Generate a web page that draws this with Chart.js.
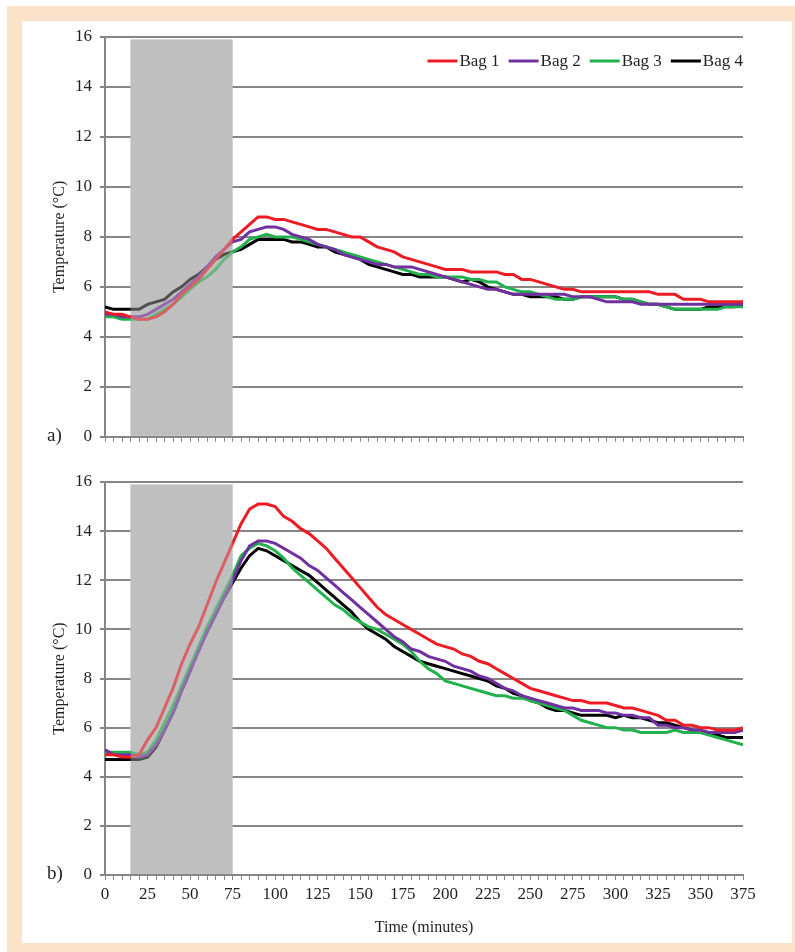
<!DOCTYPE html>
<html>
<head>
<meta charset="utf-8">
<title>Bag temperature</title>
<script src="https://cdn.jsdelivr.net/npm/chart.js@4/dist/chart.umd.min.js"></script>
<style>
  html, body { margin: 0; padding: 0; background: #fff; }
  #page { position: relative; width: 795px; height: 952px; overflow: hidden; }
  #frame { position: absolute; left: 7px; top: 6px; width: 800px; height: 960px; background: #fde2cb; }
  #paper { position: absolute; left: 22px; top: 21px; width: 770px; height: 922px; background: #fff; }
  canvas { position: absolute; left: 0; }
  #chartA { top: 0; }
  #chartB { top: 455px; }
</style>
</head>
<body>
<div id="page">
  <div id="frame"></div>
  <div id="paper"></div>
  <canvas id="chartA" width="795" height="455"></canvas>
  <canvas id="chartB" width="795" height="497"></canvas>
</div>
<script>
// time axis (minutes)
const minutes = [0, 5, 10, 15, 20, 25, 30, 35, 40, 45, 50, 55, 60, 65, 70, 75, 80, 85, 90, 95,
  100, 105, 110, 115, 120, 125, 130, 135, 140, 145, 150, 155, 160, 165, 170, 175, 180, 185, 190, 195,
  200, 205, 210, 215, 220, 225, 230, 235, 240, 245, 250, 255, 260, 265, 270, 275, 280, 285, 290, 295,
  300, 305, 310, 315, 320, 325, 330, 335, 340, 345, 350, 355, 360, 365, 370, 375];

const bagNames = ["Bag 1", "Bag 2", "Bag 3", "Bag 4"];
const bagColors = ["#ed1c24", "#7030a0", "#22b14c", "#000000"];
const panelLabels = ["a)", "b)"];

// shaded period (minutes) and its top (°C)
const shadeRange = [15, 75];
const shadeTop = 15.9;

// panel a) temperatures (°C)
const bagA1 = [5.0, 4.9, 4.9, 4.8, 4.7, 4.7, 4.8, 5.0, 5.3, 5.7, 6.0, 6.3, 6.7, 7.1, 7.5, 7.9, 8.2, 8.5, 8.8, 8.8,
  8.7, 8.7, 8.6, 8.5, 8.4, 8.3, 8.3, 8.2, 8.1, 8.0, 8.0, 7.8, 7.6, 7.5, 7.4, 7.2, 7.1, 7.0, 6.9, 6.8,
  6.7, 6.7, 6.7, 6.6, 6.6, 6.6, 6.6, 6.5, 6.5, 6.3, 6.3, 6.2, 6.1, 6.0, 5.9, 5.9, 5.8, 5.8, 5.8, 5.8,
  5.8, 5.8, 5.8, 5.8, 5.8, 5.7, 5.7, 5.7, 5.5, 5.5, 5.5, 5.4, 5.4, 5.4, 5.4, 5.4];
const bagA2 = [4.9, 4.9, 4.8, 4.8, 4.8, 4.9, 5.1, 5.3, 5.5, 5.8, 6.1, 6.4, 6.8, 7.2, 7.5, 7.8, 7.9, 8.2, 8.3, 8.4,
  8.4, 8.3, 8.1, 8.0, 7.9, 7.7, 7.6, 7.5, 7.3, 7.2, 7.1, 7.0, 6.9, 6.9, 6.8, 6.8, 6.8, 6.7, 6.6, 6.5,
  6.4, 6.3, 6.2, 6.1, 6.0, 5.9, 5.9, 5.8, 5.7, 5.7, 5.7, 5.7, 5.7, 5.7, 5.7, 5.6, 5.6, 5.6, 5.5, 5.4,
  5.4, 5.4, 5.4, 5.3, 5.3, 5.3, 5.3, 5.3, 5.3, 5.3, 5.3, 5.3, 5.3, 5.3, 5.3, 5.3];
const bagA3 = [4.8, 4.8, 4.7, 4.7, 4.7, 4.7, 4.9, 5.1, 5.3, 5.6, 5.9, 6.2, 6.4, 6.7, 7.1, 7.4, 7.6, 7.9, 8.0, 8.1,
  8.0, 8.0, 8.0, 7.9, 7.8, 7.7, 7.6, 7.5, 7.4, 7.3, 7.2, 7.1, 7.0, 6.9, 6.8, 6.7, 6.6, 6.5, 6.5, 6.4,
  6.4, 6.4, 6.4, 6.3, 6.3, 6.2, 6.2, 6.0, 5.9, 5.8, 5.8, 5.7, 5.6, 5.5, 5.5, 5.5, 5.6, 5.6, 5.6, 5.6,
  5.6, 5.5, 5.5, 5.4, 5.3, 5.3, 5.2, 5.1, 5.1, 5.1, 5.1, 5.1, 5.1, 5.2, 5.2, 5.2];
const bagA4 = [5.2, 5.1, 5.1, 5.1, 5.1, 5.3, 5.4, 5.5, 5.8, 6.0, 6.3, 6.5, 6.8, 7.1, 7.3, 7.4, 7.5, 7.7, 7.9, 7.9,
  7.9, 7.9, 7.8, 7.8, 7.7, 7.6, 7.6, 7.4, 7.3, 7.2, 7.1, 6.9, 6.8, 6.7, 6.6, 6.5, 6.5, 6.4, 6.4, 6.4,
  6.4, 6.3, 6.2, 6.3, 6.2, 6.0, 5.9, 5.8, 5.7, 5.7, 5.6, 5.6, 5.6, 5.6, 5.5, 5.5, 5.6, 5.6, 5.6, 5.6,
  5.6, 5.5, 5.5, 5.4, 5.3, 5.3, 5.2, 5.1, 5.1, 5.1, 5.1, 5.2, 5.2, 5.2, 5.2, 5.3];

// panel b) temperatures (°C)
const bagB1 = [4.9, 4.9, 4.8, 4.8, 4.9, 5.5, 6.0, 6.8, 7.6, 8.6, 9.4, 10.1, 11.0, 11.9, 12.7, 13.5, 14.3, 14.9, 15.1, 15.1,
  15.0, 14.6, 14.4, 14.1, 13.9, 13.6, 13.3, 12.9, 12.5, 12.1, 11.7, 11.3, 10.9, 10.6, 10.4, 10.2, 10.0, 9.8, 9.6, 9.4,
  9.3, 9.2, 9.0, 8.9, 8.7, 8.6, 8.4, 8.2, 8.0, 7.8, 7.6, 7.5, 7.4, 7.3, 7.2, 7.1, 7.1, 7.0, 7.0, 7.0,
  6.9, 6.8, 6.8, 6.7, 6.6, 6.5, 6.3, 6.3, 6.1, 6.1, 6.0, 6.0, 5.9, 5.9, 5.9, 6.0];
const bagB2 = [5.1, 4.9, 4.9, 4.9, 4.8, 4.9, 5.3, 5.9, 6.6, 7.5, 8.3, 9.1, 9.9, 10.6, 11.3, 12.0, 12.8, 13.4, 13.6, 13.6,
  13.5, 13.3, 13.1, 12.9, 12.6, 12.4, 12.1, 11.8, 11.5, 11.2, 10.9, 10.6, 10.3, 10.0, 9.7, 9.5, 9.2, 9.1, 8.9, 8.8,
  8.7, 8.5, 8.4, 8.3, 8.1, 8.0, 7.8, 7.6, 7.5, 7.3, 7.2, 7.1, 7.0, 6.9, 6.8, 6.8, 6.7, 6.7, 6.7, 6.6,
  6.6, 6.5, 6.5, 6.4, 6.4, 6.1, 6.1, 6.0, 6.0, 5.9, 5.9, 5.8, 5.8, 5.8, 5.8, 5.9];
const bagB3 = [5.0, 5.0, 5.0, 5.0, 4.9, 5.0, 5.5, 6.2, 6.9, 7.7, 8.5, 9.3, 10.1, 10.8, 11.5, 12.2, 13.0, 13.3, 13.5, 13.4,
  13.2, 12.9, 12.5, 12.2, 11.9, 11.6, 11.3, 11.0, 10.8, 10.5, 10.3, 10.1, 10.0, 9.8, 9.6, 9.4, 9.1, 8.7, 8.4, 8.2,
  7.9, 7.8, 7.7, 7.6, 7.5, 7.4, 7.3, 7.3, 7.2, 7.2, 7.1, 7.0, 6.9, 6.8, 6.7, 6.5, 6.3, 6.2, 6.1, 6.0,
  6.0, 5.9, 5.9, 5.8, 5.8, 5.8, 5.8, 5.9, 5.8, 5.8, 5.8, 5.7, 5.6, 5.5, 5.4, 5.3];
const bagB4 = [4.7, 4.7, 4.7, 4.7, 4.7, 4.8, 5.2, 5.9, 6.6, 7.5, 8.3, 9.2, 9.9, 10.6, 11.3, 11.9, 12.5, 13.0, 13.3, 13.2,
  13.0, 12.8, 12.6, 12.4, 12.2, 11.9, 11.6, 11.3, 11.0, 10.7, 10.3, 10.0, 9.8, 9.6, 9.3, 9.1, 8.9, 8.7, 8.6, 8.5,
  8.4, 8.3, 8.2, 8.1, 8.0, 7.9, 7.7, 7.6, 7.4, 7.3, 7.1, 7.0, 6.8, 6.7, 6.7, 6.6, 6.5, 6.5, 6.5, 6.5,
  6.4, 6.5, 6.4, 6.4, 6.3, 6.2, 6.2, 6.1, 6.0, 5.9, 5.8, 5.8, 5.7, 5.6, 5.6, 5.6];

const axisGray = "#868686";
const textColor = "#231f20";

Chart.defaults.font.family = '"Liberation Serif", "Times New Roman", serif';
Chart.defaults.color = textColor;

// gray rectangle: solid under the lines, a light veil over them
function paintShade(chart, fill) {
    const ctx = chart.ctx;
    const x = chart.scales.x, y = chart.scales.y;
    const left = x.getPixelForValue(shadeRange[0]);
    const right = x.getPixelForValue(shadeRange[1]);
    const top = y.getPixelForValue(shadeTop);
    const bottom = y.getPixelForValue(0) - 1;
    ctx.save();
    ctx.fillStyle = fill;
    ctx.fillRect(left, top, right - left, bottom - top);
    ctx.restore();
}

const shadePlugin = {
    id: "shade",
    beforeDatasetsDraw(chart) { paintShade(chart, "#bfbfbf"); },
    afterDatasetsDraw(chart) { paintShade(chart, "rgba(191,191,191,0.42)"); }
};

// "a)" / "b)" next to the zero tick
const panelLabelPlugin = {
    id: "panelLabel",
    afterDraw(chart, args, opts) {
        const ctx = chart.ctx;
        ctx.save();
        ctx.font = '19px "Liberation Serif", serif';
        ctx.fillStyle = textColor;
        ctx.textBaseline = "middle";
        ctx.fillText(opts.text, chart.chartArea.left - 58, chart.chartArea.bottom - 1);
        ctx.restore();
    }
};

// legend drawn inside the plot, top right
const insideLegendPlugin = {
    id: "insideLegend",
    afterDraw(chart, args, opts) {
        if (!opts.display) return;
        const ctx = chart.ctx;
        const lineLen = 30, gap = 2, itemGap = 9;
        ctx.save();
        ctx.font = '17px "Liberation Serif", serif';
        const sets = chart.data.datasets;
        const widths = sets.map(d => lineLen + gap + ctx.measureText(d.label).width);
        let x = chart.chartArea.right - widths.reduce((a, b) => a + b, 0) - itemGap * (sets.length - 1);
        const y = chart.chartArea.top + 24;
        ctx.textBaseline = "middle";
        sets.forEach((d, i) => {
            ctx.strokeStyle = d.borderColor;
            ctx.lineWidth = 3;
            ctx.beginPath();
            ctx.moveTo(x, y);
            ctx.lineTo(x + lineLen, y);
            ctx.stroke();
            ctx.fillStyle = textColor;
            ctx.fillText(d.label, x + lineLen + gap, y + 1);
            x += widths[i] + itemGap;
        });
        ctx.restore();
    }
};

function makePanel(canvasId, series, panelLabel, isBottom) {
    const ctx = document.getElementById(canvasId).getContext("2d");
    return new Chart(ctx, {
        type: "line",
        data: {
            datasets: series.map((vals, i) => ({
                label: bagNames[i],
                data: minutes.map((t, k) => ({ x: t, y: vals[k] })),
                borderColor: bagColors[i],
                backgroundColor: bagColors[i],
                borderWidth: 3,
                pointRadius: 0,
                tension: 0,
                fill: false
            }))
        },
        options: {
            responsive: false,
            animation: false,
            layout: { padding: { left: 45, right: 52, top: isBottom ? 27 : 37, bottom: 0 } },
            plugins: {
                legend: { display: false },
                tooltip: { enabled: false },
                panelLabel: { text: panelLabel },
                insideLegend: { display: !isBottom }
            },
            scales: {
                x: {
                    type: "linear",
                    min: 0,
                    max: 375,
                    border: { color: axisGray, width: 2 },
                    grid: { drawOnChartArea: false, color: axisGray, lineWidth: 1, tickLength: 5 },
                    ticks: {
                        stepSize: 5,
                        autoSkip: false,
                        maxRotation: 0,
                        padding: 4,
                        font: { size: 17 },
                        callback: v => (isBottom && v % 25 === 0) ? String(v) : ""
                    },
                    title: {
                        display: isBottom,
                        text: "Time (minutes)",
                        font: { size: 16 },
                        padding: { top: 4, bottom: 15 }
                    },
                    afterFit: s => { s.height = isBottom ? 77 : 18; }
                },
                y: {
                    min: 0,
                    max: 16,
                    border: { color: axisGray, width: 2 },
                    grid: { color: axisGray, lineWidth: 2, tickLength: 5 },
                    ticks: { stepSize: 2, padding: 8, font: { size: 17 } },
                    title: {
                        display: true,
                        text: "Temperature (°C)",
                        font: { size: 16 },
                        padding: { top: 5, bottom: 0 }
                    },
                    afterFit: s => { s.width = 60; }
                }
            }
        },
        plugins: [shadePlugin, panelLabelPlugin, insideLegendPlugin]
    });
}

document.addEventListener("DOMContentLoaded", function () {
    makePanel("chartA", [bagA1, bagA2, bagA3, bagA4], panelLabels[0], false);
    makePanel("chartB", [bagB1, bagB2, bagB3, bagB4], panelLabels[1], true);
});
</script>
</body>
</html>
